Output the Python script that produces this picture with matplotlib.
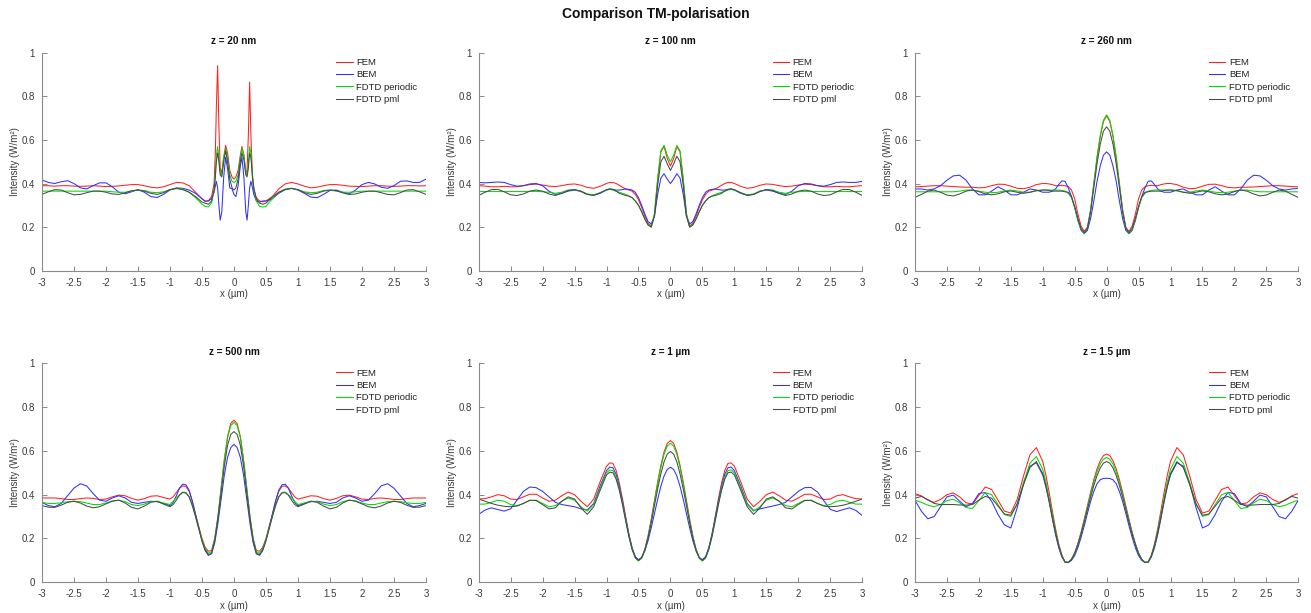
import matplotlib
matplotlib.use("Agg")
import matplotlib.pyplot as plt

plt.rcParams['font.family'] = ['Liberation Sans', 'DejaVu Sans']

# ---------------- sample positions (µm) ----------------
X_P1 = ([-3.0, -2.9, -2.8, -2.7, -2.6, -2.5, -2.4, -2.3, -2.2, -2.1, -2.0, -1.9, -1.8,
         -1.7, -1.6, -1.5, -1.4, -1.3, -1.2, -1.1, -1.0, -0.9, -0.8, -0.7, -0.6, -0.5]
        + [-0.45, -0.4, -0.35, -0.31, -0.29, -0.275, -0.255, -0.235, -0.215, -0.19, -0.16,
           -0.13, -0.1, -0.065, -0.03, 0.0, 0.03, 0.065, 0.1, 0.125, 0.155, 0.185, 0.205,
           0.225, 0.245, 0.265, 0.29, 0.31, 0.35, 0.4, 0.45]
        + [0.5, 0.6, 0.7, 0.8, 0.9, 1.0, 1.1, 1.2, 1.3, 1.4, 1.5, 1.6, 1.7, 1.8, 1.9, 2.0,
           2.1, 2.2, 2.3, 2.4, 2.5, 2.6, 2.7, 2.8, 2.9, 3.0])

X_STD = ([-3.0, -2.9, -2.8, -2.7, -2.6, -2.5, -2.4, -2.3, -2.2, -2.1, -2.0, -1.9, -1.8,
          -1.7, -1.6, -1.5, -1.4, -1.3, -1.2, -1.1, -1.0]
         + [-0.95, -0.9, -0.85, -0.8, -0.75, -0.7, -0.65, -0.6, -0.55, -0.5, -0.45, -0.4,
            -0.35, -0.3, -0.25, -0.2, -0.15, -0.1, -0.05, 0.0, 0.05, 0.1, 0.15, 0.2, 0.25,
            0.3, 0.35, 0.4, 0.45, 0.5, 0.55, 0.6, 0.65, 0.7, 0.75, 0.8, 0.85, 0.9, 0.95]
         + [1.0, 1.1, 1.2, 1.3, 1.4, 1.5, 1.6, 1.7, 1.8, 1.9, 2.0, 2.1, 2.2, 2.3, 2.4, 2.5,
            2.6, 2.7, 2.8, 2.9, 3.0])

# ---------------- z = 20 nm ----------------
P1_FEM = ([0.390, 0.390, 0.388, 0.390, 0.390, 0.388, 0.387, 0.388, 0.390, 0.388, 0.386, 0.387, 0.389,
           0.392, 0.395, 0.395, 0.390, 0.383, 0.380, 0.385, 0.395, 0.405, 0.403, 0.390, 0.360, 0.330]
          + [0.318, 0.320, 0.340, 0.400, 0.550, 0.750, 0.940, 0.660, 0.470, 0.450, 0.520, 0.575, 0.540,
             0.460, 0.430, 0.420, 0.430, 0.460, 0.530, 0.570, 0.530, 0.450, 0.460, 0.620, 0.865, 0.620,
             0.420, 0.370, 0.335, 0.320, 0.316]
          + [0.320, 0.340, 0.375, 0.398, 0.405, 0.398, 0.388, 0.380, 0.383, 0.390, 0.395, 0.395, 0.392,
             0.388, 0.387, 0.386, 0.388, 0.390, 0.390, 0.388, 0.387, 0.388, 0.390, 0.390, 0.389, 0.390])
P1_BEM = ([0.416, 0.405, 0.400, 0.408, 0.413, 0.400, 0.380, 0.375, 0.390, 0.403, 0.403, 0.385, 0.360,
           0.353, 0.362, 0.372, 0.360, 0.340, 0.336, 0.350, 0.370, 0.380, 0.378, 0.370, 0.355, 0.330]
          + [0.320, 0.320, 0.330, 0.360, 0.390, 0.410, 0.380, 0.300, 0.232, 0.270, 0.430, 0.520, 0.470,
             0.380, 0.375, 0.350, 0.340, 0.390, 0.480, 0.520, 0.430, 0.270, 0.232, 0.300, 0.380, 0.410,
             0.380, 0.350, 0.320, 0.315, 0.320]
          + [0.320, 0.330, 0.355, 0.372, 0.378, 0.370, 0.355, 0.338, 0.335, 0.350, 0.368, 0.370, 0.360,
             0.352, 0.370, 0.395, 0.405, 0.398, 0.383, 0.378, 0.390, 0.410, 0.412, 0.405, 0.405, 0.420])
P1_PER = ([0.365, 0.365, 0.365, 0.365, 0.365, 0.365, 0.365, 0.365, 0.365, 0.365, 0.365, 0.362, 0.360,
           0.360, 0.365, 0.370, 0.368, 0.360, 0.358, 0.362, 0.372, 0.378, 0.375, 0.360, 0.335, 0.305]
          + [0.295, 0.293, 0.310, 0.370, 0.450, 0.530, 0.570, 0.520, 0.450, 0.440, 0.520, 0.560, 0.520,
             0.440, 0.410, 0.405, 0.410, 0.440, 0.520, 0.560, 0.530, 0.450, 0.440, 0.490, 0.570, 0.540,
             0.440, 0.380, 0.320, 0.295, 0.292]
          + [0.295, 0.330, 0.360, 0.375, 0.378, 0.372, 0.362, 0.358, 0.360, 0.368, 0.370, 0.365, 0.360,
             0.360, 0.362, 0.365, 0.365, 0.365, 0.365, 0.365, 0.365, 0.365, 0.365, 0.365, 0.365, 0.365])
P1_PML = ([0.350, 0.362, 0.372, 0.370, 0.358, 0.348, 0.350, 0.358, 0.365, 0.365, 0.360, 0.352, 0.350,
           0.357, 0.367, 0.370, 0.365, 0.355, 0.350, 0.358, 0.372, 0.377, 0.372, 0.360, 0.340, 0.315]
          + [0.310, 0.305, 0.320, 0.370, 0.430, 0.500, 0.540, 0.500, 0.440, 0.430, 0.500, 0.550, 0.500,
             0.420, 0.380, 0.370, 0.380, 0.420, 0.500, 0.540, 0.510, 0.440, 0.430, 0.470, 0.540, 0.520,
             0.430, 0.380, 0.330, 0.310, 0.305]
          + [0.310, 0.338, 0.360, 0.372, 0.377, 0.372, 0.358, 0.350, 0.355, 0.365, 0.370, 0.367, 0.357,
             0.350, 0.352, 0.360, 0.365, 0.365, 0.358, 0.350, 0.348, 0.358, 0.370, 0.372, 0.362, 0.350])

# ---------------- z = 100 nm ----------------
P2_FEM = ([0.390, 0.388, 0.385, 0.385, 0.387, 0.385, 0.385, 0.390, 0.395, 0.397, 0.393, 0.388, 0.386,
           0.390, 0.396, 0.398, 0.392, 0.382, 0.378, 0.387, 0.400]
          + [0.405, 0.405, 0.400, 0.392, 0.383, 0.375, 0.370, 0.365, 0.350, 0.325, 0.290, 0.250, 0.218,
             0.205, 0.260, 0.420, 0.545, 0.570, 0.515, 0.480, 0.515, 0.570, 0.545, 0.420, 0.260, 0.205,
             0.218, 0.250, 0.290, 0.325, 0.350, 0.365, 0.370, 0.375, 0.383, 0.392, 0.400, 0.405, 0.405]
          + [0.400, 0.387, 0.378, 0.382, 0.392, 0.398, 0.396, 0.390, 0.386, 0.388, 0.393, 0.397, 0.395,
             0.390, 0.385, 0.385, 0.387, 0.385, 0.385, 0.388, 0.390])
P2_BEM = ([0.405, 0.403, 0.405, 0.407, 0.405, 0.395, 0.388, 0.390, 0.398, 0.400, 0.390, 0.365, 0.350,
           0.355, 0.365, 0.370, 0.365, 0.350, 0.347, 0.355, 0.370]
          + [0.375, 0.373, 0.370, 0.370, 0.372, 0.375, 0.373, 0.370, 0.360, 0.335, 0.300, 0.260, 0.225,
             0.215, 0.250, 0.350, 0.425, 0.445, 0.420, 0.400, 0.420, 0.445, 0.425, 0.350, 0.250, 0.215,
             0.225, 0.260, 0.300, 0.335, 0.360, 0.370, 0.373, 0.375, 0.372, 0.370, 0.370, 0.373, 0.375]
          + [0.370, 0.355, 0.347, 0.350, 0.365, 0.370, 0.365, 0.355, 0.350, 0.365, 0.390, 0.400, 0.398,
             0.390, 0.388, 0.395, 0.405, 0.407, 0.405, 0.405, 0.410])
P2_PER = ([0.363, 0.363, 0.363, 0.363, 0.363, 0.363, 0.363, 0.363, 0.364, 0.364, 0.362, 0.360, 0.355,
           0.360, 0.370, 0.372, 0.365, 0.352, 0.348, 0.358, 0.370]
          + [0.373, 0.370, 0.365, 0.360, 0.355, 0.350, 0.343, 0.335, 0.320, 0.300, 0.270, 0.237, 0.210,
             0.200, 0.260, 0.420, 0.550, 0.575, 0.530, 0.500, 0.530, 0.575, 0.550, 0.420, 0.260, 0.200,
             0.210, 0.237, 0.270, 0.300, 0.320, 0.335, 0.343, 0.350, 0.355, 0.360, 0.365, 0.370, 0.373]
          + [0.370, 0.358, 0.348, 0.352, 0.365, 0.372, 0.370, 0.360, 0.355, 0.360, 0.362, 0.364, 0.364,
             0.363, 0.363, 0.363, 0.363, 0.363, 0.363, 0.363, 0.363])
P2_PML = ([0.345, 0.360, 0.372, 0.373, 0.362, 0.348, 0.345, 0.352, 0.365, 0.370, 0.365, 0.352, 0.345,
           0.355, 0.368, 0.372, 0.363, 0.350, 0.345, 0.357, 0.372]
          + [0.375, 0.373, 0.365, 0.355, 0.350, 0.345, 0.342, 0.335, 0.320, 0.300, 0.270, 0.237, 0.210,
             0.200, 0.250, 0.390, 0.500, 0.525, 0.490, 0.460, 0.490, 0.525, 0.500, 0.390, 0.250, 0.200,
             0.210, 0.237, 0.270, 0.300, 0.320, 0.335, 0.342, 0.345, 0.350, 0.355, 0.365, 0.373, 0.375]
          + [0.372, 0.357, 0.345, 0.350, 0.363, 0.372, 0.368, 0.355, 0.345, 0.352, 0.365, 0.370, 0.365,
             0.352, 0.345, 0.348, 0.362, 0.373, 0.372, 0.360, 0.345])

# ---------------- z = 260 nm ----------------
P3_FEM = ([0.385, 0.386, 0.388, 0.390, 0.390, 0.388, 0.386, 0.384, 0.383, 0.383, 0.380, 0.382, 0.390,
           0.397, 0.396, 0.388, 0.378, 0.376, 0.383, 0.395, 0.400]
          + [0.400, 0.398, 0.395, 0.390, 0.390, 0.392, 0.390, 0.385, 0.370, 0.330, 0.260, 0.205, 0.180,
             0.200, 0.280, 0.400, 0.520, 0.615, 0.685, 0.710, 0.685, 0.615, 0.520, 0.400, 0.280, 0.200,
             0.180, 0.205, 0.260, 0.330, 0.370, 0.385, 0.390, 0.392, 0.390, 0.390, 0.395, 0.398, 0.400]
          + [0.400, 0.395, 0.383, 0.376, 0.378, 0.388, 0.396, 0.397, 0.390, 0.382, 0.380, 0.383, 0.383,
             0.384, 0.386, 0.388, 0.390, 0.390, 0.388, 0.386, 0.385])
P3_BEM = ([0.375, 0.375, 0.370, 0.375, 0.390, 0.415, 0.435, 0.438, 0.415, 0.375, 0.348, 0.348, 0.365,
           0.385, 0.370, 0.348, 0.348, 0.360, 0.375, 0.370, 0.360]
          + [0.360, 0.360, 0.365, 0.375, 0.395, 0.412, 0.410, 0.380, 0.340, 0.290, 0.230, 0.185, 0.170,
             0.185, 0.240, 0.320, 0.410, 0.480, 0.530, 0.545, 0.530, 0.480, 0.410, 0.320, 0.240, 0.185,
             0.170, 0.185, 0.230, 0.290, 0.340, 0.380, 0.410, 0.412, 0.395, 0.375, 0.365, 0.360, 0.360]
          + [0.360, 0.370, 0.375, 0.360, 0.348, 0.348, 0.370, 0.385, 0.365, 0.348, 0.348, 0.375, 0.415,
             0.438, 0.435, 0.415, 0.390, 0.375, 0.370, 0.375, 0.378])
P3_PER = ([0.362, 0.362, 0.362, 0.362, 0.362, 0.362, 0.362, 0.365, 0.370, 0.370, 0.365, 0.360, 0.358,
           0.360, 0.366, 0.370, 0.366, 0.360, 0.360, 0.366, 0.370]
          + [0.370, 0.370, 0.370, 0.370, 0.370, 0.368, 0.365, 0.355, 0.335, 0.290, 0.235, 0.190, 0.170,
             0.195, 0.280, 0.400, 0.520, 0.620, 0.690, 0.715, 0.690, 0.620, 0.520, 0.400, 0.280, 0.195,
             0.170, 0.190, 0.235, 0.290, 0.335, 0.355, 0.365, 0.368, 0.370, 0.370, 0.370, 0.370, 0.370]
          + [0.370, 0.366, 0.360, 0.360, 0.366, 0.370, 0.366, 0.360, 0.358, 0.360, 0.365, 0.370, 0.370,
             0.365, 0.362, 0.362, 0.362, 0.362, 0.362, 0.362, 0.362])
P3_PML = ([0.336, 0.350, 0.365, 0.370, 0.360, 0.347, 0.343, 0.352, 0.365, 0.370, 0.363, 0.352, 0.348,
           0.353, 0.362, 0.366, 0.360, 0.355, 0.360, 0.368, 0.370]
          + [0.370, 0.368, 0.365, 0.365, 0.365, 0.365, 0.362, 0.360, 0.340, 0.295, 0.240, 0.195, 0.174,
             0.195, 0.270, 0.380, 0.490, 0.580, 0.640, 0.660, 0.640, 0.580, 0.490, 0.380, 0.270, 0.195,
             0.174, 0.195, 0.240, 0.295, 0.340, 0.360, 0.362, 0.365, 0.365, 0.365, 0.365, 0.368, 0.370]
          + [0.370, 0.368, 0.360, 0.355, 0.360, 0.366, 0.362, 0.353, 0.348, 0.352, 0.363, 0.370, 0.365,
             0.352, 0.343, 0.347, 0.360, 0.370, 0.365, 0.350, 0.336])

# ---------------- z = 500 nm ----------------
P4_FEM = ([0.385, 0.385, 0.385, 0.382, 0.378, 0.378, 0.382, 0.385, 0.383, 0.378, 0.380, 0.390, 0.398,
           0.395, 0.383, 0.375, 0.382, 0.393, 0.395, 0.387, 0.380]
          + [0.390, 0.410, 0.430, 0.440, 0.438, 0.415, 0.370, 0.310, 0.255, 0.200, 0.160, 0.142, 0.145,
             0.200, 0.300, 0.430, 0.560, 0.665, 0.725, 0.740, 0.725, 0.665, 0.560, 0.430, 0.300, 0.200,
             0.145, 0.142, 0.160, 0.200, 0.255, 0.310, 0.370, 0.415, 0.438, 0.440, 0.430, 0.410, 0.390]
          + [0.380, 0.387, 0.395, 0.393, 0.382, 0.375, 0.383, 0.395, 0.398, 0.390, 0.380, 0.378, 0.383,
             0.385, 0.382, 0.378, 0.378, 0.382, 0.385, 0.385, 0.385])
P4_BEM = ([0.365, 0.350, 0.345, 0.360, 0.395, 0.430, 0.450, 0.440, 0.405, 0.375, 0.370, 0.385, 0.395,
           0.385, 0.365, 0.360, 0.365, 0.370, 0.368, 0.360, 0.350]
          + [0.365, 0.395, 0.430, 0.448, 0.445, 0.420, 0.370, 0.310, 0.250, 0.190, 0.145, 0.123, 0.130,
             0.180, 0.270, 0.380, 0.490, 0.570, 0.615, 0.630, 0.615, 0.570, 0.490, 0.380, 0.270, 0.180,
             0.130, 0.123, 0.145, 0.190, 0.250, 0.310, 0.370, 0.420, 0.445, 0.448, 0.430, 0.395, 0.365]
          + [0.350, 0.360, 0.368, 0.370, 0.365, 0.360, 0.365, 0.385, 0.395, 0.385, 0.370, 0.375, 0.405,
             0.440, 0.450, 0.430, 0.395, 0.360, 0.345, 0.350, 0.360])
P4_PER = ([0.365, 0.360, 0.360, 0.363, 0.368, 0.370, 0.368, 0.362, 0.355, 0.355, 0.362, 0.372, 0.375,
           0.368, 0.355, 0.350, 0.357, 0.368, 0.370, 0.362, 0.355]
          + [0.370, 0.385, 0.400, 0.412, 0.410, 0.390, 0.350, 0.300, 0.245, 0.195, 0.155, 0.132, 0.140,
             0.200, 0.300, 0.430, 0.560, 0.660, 0.715, 0.730, 0.715, 0.660, 0.560, 0.430, 0.300, 0.200,
             0.140, 0.132, 0.155, 0.195, 0.245, 0.300, 0.350, 0.390, 0.410, 0.412, 0.400, 0.385, 0.370]
          + [0.355, 0.362, 0.370, 0.368, 0.357, 0.350, 0.355, 0.368, 0.375, 0.372, 0.362, 0.355, 0.355,
             0.362, 0.368, 0.370, 0.368, 0.363, 0.360, 0.360, 0.365])
P4_PML = ([0.350, 0.343, 0.342, 0.352, 0.365, 0.370, 0.362, 0.348, 0.340, 0.345, 0.358, 0.370, 0.375,
           0.362, 0.342, 0.335, 0.348, 0.365, 0.370, 0.357, 0.345]
          + [0.355, 0.375, 0.398, 0.410, 0.407, 0.390, 0.350, 0.300, 0.245, 0.190, 0.148, 0.126, 0.132,
             0.190, 0.290, 0.410, 0.530, 0.625, 0.675, 0.688, 0.675, 0.625, 0.530, 0.410, 0.290, 0.190,
             0.132, 0.126, 0.148, 0.190, 0.245, 0.300, 0.350, 0.390, 0.407, 0.410, 0.398, 0.375, 0.355]
          + [0.345, 0.357, 0.370, 0.365, 0.348, 0.335, 0.342, 0.362, 0.375, 0.370, 0.358, 0.345, 0.340,
             0.348, 0.362, 0.370, 0.365, 0.352, 0.342, 0.343, 0.350])

# ---------------- z = 1 µm ----------------
P5_FEM = ([0.380, 0.382, 0.390, 0.400, 0.395, 0.380, 0.378, 0.390, 0.402, 0.402, 0.385, 0.370, 0.375,
           0.395, 0.412, 0.400, 0.370, 0.345, 0.380, 0.459, 0.530]
          + [0.545, 0.543, 0.511, 0.454, 0.381, 0.300, 0.221, 0.157, 0.115, 0.100, 0.113, 0.152, 0.213,
             0.289, 0.374, 0.458, 0.534, 0.595, 0.634, 0.647, 0.634, 0.595, 0.534, 0.458, 0.374, 0.289,
             0.213, 0.152, 0.113, 0.100, 0.115, 0.157, 0.221, 0.300, 0.381, 0.454, 0.511, 0.543, 0.545]
          + [0.530, 0.459, 0.380, 0.345, 0.370, 0.400, 0.412, 0.395, 0.375, 0.370, 0.385, 0.402, 0.402,
             0.390, 0.378, 0.380, 0.395, 0.400, 0.390, 0.382, 0.380])
P5_BEM = ([0.310, 0.330, 0.340, 0.332, 0.325, 0.335, 0.375, 0.415, 0.435, 0.432, 0.415, 0.390, 0.365,
           0.355, 0.350, 0.345, 0.335, 0.330, 0.360, 0.440, 0.510]
          + [0.526, 0.523, 0.493, 0.438, 0.370, 0.292, 0.218, 0.157, 0.117, 0.103, 0.113, 0.143, 0.190,
             0.249, 0.314, 0.379, 0.438, 0.485, 0.515, 0.525, 0.515, 0.485, 0.438, 0.379, 0.314, 0.249,
             0.190, 0.143, 0.113, 0.103, 0.117, 0.157, 0.218, 0.292, 0.370, 0.438, 0.493, 0.523, 0.526]
          + [0.510, 0.440, 0.360, 0.328, 0.335, 0.342, 0.348, 0.355, 0.365, 0.390, 0.415, 0.432, 0.433,
             0.412, 0.372, 0.333, 0.323, 0.332, 0.340, 0.328, 0.305])
P5_PER = ([0.357, 0.357, 0.365, 0.375, 0.370, 0.355, 0.350, 0.360, 0.373, 0.375, 0.360, 0.345, 0.350,
           0.370, 0.385, 0.375, 0.345, 0.325, 0.355, 0.430, 0.500]
          + [0.513, 0.510, 0.480, 0.427, 0.359, 0.283, 0.210, 0.150, 0.111, 0.097, 0.110, 0.148, 0.208,
             0.283, 0.366, 0.450, 0.524, 0.584, 0.622, 0.635, 0.622, 0.584, 0.524, 0.450, 0.366, 0.283,
             0.208, 0.148, 0.110, 0.097, 0.111, 0.150, 0.210, 0.283, 0.359, 0.427, 0.480, 0.510, 0.513]
          + [0.500, 0.430, 0.355, 0.325, 0.345, 0.375, 0.385, 0.370, 0.350, 0.345, 0.360, 0.375, 0.373,
             0.360, 0.350, 0.355, 0.370, 0.375, 0.365, 0.357, 0.357])
P5_PML = ([0.380, 0.370, 0.360, 0.352, 0.347, 0.345, 0.348, 0.360, 0.375, 0.373, 0.355, 0.335, 0.340,
           0.370, 0.390, 0.380, 0.340, 0.310, 0.345, 0.420, 0.490]
          + [0.503, 0.500, 0.471, 0.420, 0.354, 0.280, 0.209, 0.151, 0.113, 0.100, 0.112, 0.147, 0.202,
             0.271, 0.350, 0.426, 0.495, 0.550, 0.585, 0.597, 0.585, 0.550, 0.495, 0.426, 0.350, 0.271,
             0.202, 0.147, 0.112, 0.100, 0.113, 0.151, 0.209, 0.280, 0.354, 0.420, 0.471, 0.500, 0.503]
          + [0.490, 0.420, 0.345, 0.310, 0.340, 0.380, 0.390, 0.370, 0.340, 0.335, 0.355, 0.373, 0.375,
             0.360, 0.348, 0.345, 0.347, 0.352, 0.360, 0.370, 0.380])

# ---------------- z = 1.5 µm ----------------
P6_FEM = ([0.405, 0.395, 0.375, 0.365, 0.378, 0.400, 0.408, 0.390, 0.363, 0.357, 0.396, 0.435, 0.424,
           0.375, 0.325, 0.316, 0.378, 0.486, 0.582, 0.615, 0.552]
          + [0.489, 0.411, 0.327, 0.246, 0.176, 0.124, 0.092, 0.091, 0.105, 0.134, 0.177, 0.229, 0.288,
             0.350, 0.412, 0.469, 0.518, 0.555, 0.578, 0.586, 0.578, 0.555, 0.518, 0.469, 0.412, 0.350,
             0.288, 0.229, 0.177, 0.134, 0.105, 0.091, 0.092, 0.124, 0.176, 0.246, 0.327, 0.411, 0.489]
          + [0.552, 0.615, 0.582, 0.486, 0.378, 0.316, 0.325, 0.375, 0.424, 0.435, 0.396, 0.357, 0.363,
             0.390, 0.408, 0.400, 0.378, 0.365, 0.375, 0.395, 0.405])
P6_BEM = ([0.375, 0.325, 0.290, 0.300, 0.345, 0.390, 0.398, 0.370, 0.345, 0.360, 0.405, 0.410, 0.370,
           0.310, 0.262, 0.248, 0.340, 0.450, 0.530, 0.546, 0.490]
          + [0.436, 0.368, 0.290, 0.218, 0.158, 0.115, 0.092, 0.090, 0.100, 0.122, 0.158, 0.205, 0.258,
             0.315, 0.370, 0.415, 0.450, 0.468, 0.474, 0.475, 0.474, 0.468, 0.450, 0.415, 0.370, 0.315,
             0.258, 0.205, 0.158, 0.122, 0.100, 0.090, 0.092, 0.115, 0.158, 0.218, 0.290, 0.368, 0.436]
          + [0.490, 0.546, 0.530, 0.450, 0.340, 0.248, 0.262, 0.310, 0.370, 0.410, 0.405, 0.360, 0.345,
             0.370, 0.398, 0.390, 0.345, 0.300, 0.290, 0.325, 0.375])
P6_PER = ([0.375, 0.365, 0.352, 0.345, 0.355, 0.373, 0.379, 0.363, 0.341, 0.337, 0.373, 0.410, 0.400,
           0.355, 0.309, 0.301, 0.358, 0.457, 0.544, 0.574, 0.516]
          + [0.458, 0.386, 0.309, 0.234, 0.169, 0.121, 0.092, 0.091, 0.105, 0.133, 0.174, 0.224, 0.282,
             0.342, 0.402, 0.457, 0.504, 0.540, 0.562, 0.570, 0.562, 0.540, 0.504, 0.457, 0.402, 0.342,
             0.282, 0.224, 0.174, 0.133, 0.105, 0.091, 0.092, 0.121, 0.169, 0.234, 0.309, 0.386, 0.458]
          + [0.516, 0.574, 0.544, 0.457, 0.358, 0.301, 0.309, 0.355, 0.400, 0.410, 0.373, 0.337, 0.341,
             0.363, 0.379, 0.373, 0.355, 0.345, 0.352, 0.365, 0.375])
P6_PML = ([0.384, 0.392, 0.378, 0.360, 0.355, 0.355, 0.355, 0.353, 0.352, 0.355, 0.375, 0.392, 0.384,
           0.348, 0.312, 0.306, 0.357, 0.446, 0.524, 0.551, 0.496]
          + [0.440, 0.372, 0.298, 0.227, 0.166, 0.120, 0.092, 0.091, 0.104, 0.131, 0.171, 0.219, 0.274,
             0.332, 0.389, 0.442, 0.487, 0.522, 0.544, 0.551, 0.544, 0.522, 0.487, 0.442, 0.389, 0.332,
             0.274, 0.219, 0.171, 0.131, 0.104, 0.091, 0.092, 0.120, 0.166, 0.227, 0.298, 0.372, 0.440]
          + [0.496, 0.551, 0.524, 0.446, 0.357, 0.306, 0.312, 0.348, 0.384, 0.392, 0.375, 0.355, 0.352,
             0.353, 0.355, 0.355, 0.355, 0.360, 0.378, 0.392, 0.384])

# ---------------- labels ----------------
SUPTITLE = "Comparison TM-polarisation"
TITLES = ["z = 20 nm", "z = 100 nm", "z = 260 nm", "z = 500 nm", "z = 1 µm", "z = 1.5 µm"]
YLABELS = ["Intensity (W/m²)"] * 5 + ["Inensity (W/m²)"]
XLABEL = "x (µm)"
SERIES = ["FEM", "BEM", "FDTD periodic", "FDTD pml"]
XTICKS = [-3, -2.5, -2, -1.5, -1, -0.5, 0, 0.5, 1, 1.5, 2, 2.5, 3]
XTICKLABELS = ["-3", "-2.5", "-2", "-1.5", "-1", "-0.5", "0", "0.5", "1", "1.5", "2", "2.5", "3"]
YTICKS = [0, 0.2, 0.4, 0.6, 0.8, 1]
YTICKLABELS = ["0", "0.2", "0.4", "0.6", "0.8", "1"]

PANELS = [
    (X_P1, [P1_FEM, P1_BEM, P1_PER, P1_PML]),
    (X_STD, [P2_FEM, P2_BEM, P2_PER, P2_PML]),
    (X_STD, [P3_FEM, P3_BEM, P3_PER, P3_PML]),
    (X_STD, [P4_FEM, P4_BEM, P4_PER, P4_PML]),
    (X_STD, [P5_FEM, P5_BEM, P5_PER, P5_PML]),
    (X_STD, [P6_FEM, P6_BEM, P6_PER, P6_PML]),
]

COLORS = ["#ff2020", "#3030ff", "#00dd00", "#4a4a4a"]
AXCOL = "#8a8a8a"
TXTCOL = "#3a3a3a"

fig = plt.figure(figsize=(13.11, 6.13), dpi=100)
fig.patch.set_facecolor("white")

lefts = [0.0320, 0.3651, 0.6979]
widths = [0.2929, 0.2926, 0.2924]
bottoms = [0.5584, 0.0501]
heights = [0.3556, 0.3573]

for i, (xs, ys) in enumerate(PANELS):
    r, c = divmod(i, 3)
    ax = fig.add_axes([lefts[c], bottoms[r], widths[c], heights[r]])
    for y, col, lab in zip(ys, COLORS, SERIES):
        ax.plot(xs, y, color=col, lw=0.75, label=lab)
    ax.set_xlim(-3, 3)
    ax.set_ylim(0, 1)
    ax.set_xticks(XTICKS)
    ax.set_xticklabels(XTICKLABELS)
    ax.set_yticks(YTICKS)
    ax.set_yticklabels(YTICKLABELS)
    for s in ["top", "right"]:
        ax.spines[s].set_visible(False)
    for s in ["left", "bottom"]:
        ax.spines[s].set_color(AXCOL)
        ax.spines[s].set_linewidth(0.8)
    ax.tick_params(axis="both", direction="in", length=3.5, width=0.7,
                   colors=AXCOL, labelcolor=TXTCOL, labelsize=7)
    ax.tick_params(axis="x", pad=5)
    ax.tick_params(axis="y", pad=5)
    ax.set_title(TITLES[i], fontsize=7.2, fontweight="bold", pad=6, color="#111111")
    ax.set_xlabel(XLABEL, fontsize=7, color=TXTCOL, labelpad=1)
    ax.set_ylabel(YLABELS[i], fontsize=7, color=TXTCOL, labelpad=1)
    leg = ax.legend(loc="upper left", bbox_to_anchor=(0.767, 0.975), frameon=False,
                    fontsize=6.8, handlelength=1.75, handletextpad=0.35,
                    labelspacing=0.35, borderpad=0, borderaxespad=0)
    for t in leg.get_texts():
        t.set_color("#222222")

fig.text(0.5, 0.977, SUPTITLE, ha="center", va="center", fontsize=10,
         fontweight="bold", color="#111111")

fig.savefig("out.png", dpi=100, facecolor="white")
